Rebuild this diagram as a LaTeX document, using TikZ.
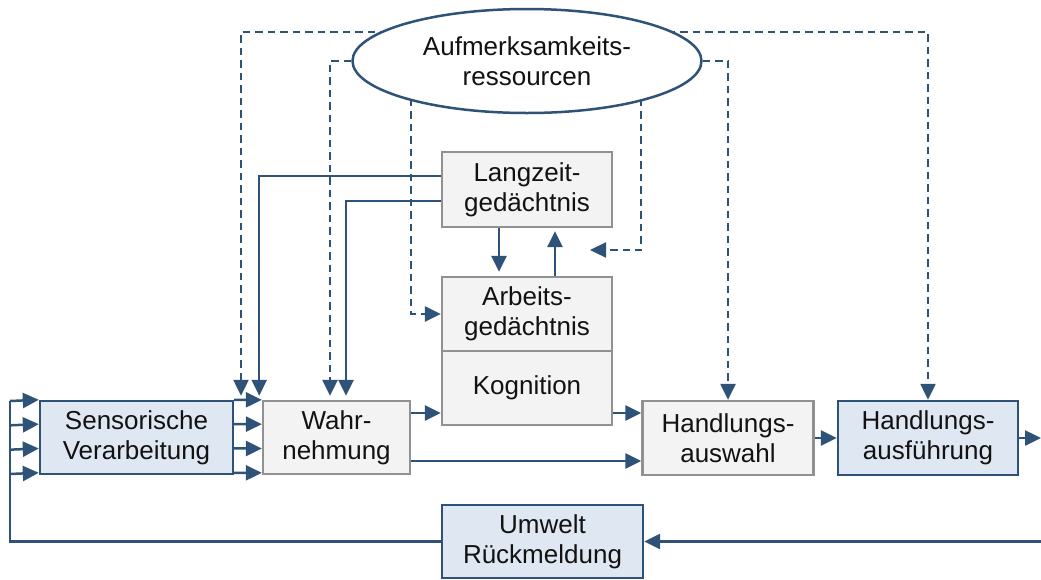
\documentclass[tikz,border=0pt]{standalone}
\usepackage{fontspec}
\setmainfont{Liberation Sans}
\usetikzlibrary{shapes.geometric,arrows.meta,calc,backgrounds}
\definecolor{linec}{RGB}{47,82,120}
\definecolor{bluefill}{RGB}{222,231,242}
\definecolor{grayfill}{RGB}{243,243,243}
\definecolor{grayline}{RGB}{145,145,145}
\begin{document}
\begin{tikzpicture}[x=1pt,y=-1pt,
  every node/.style={font=\fontsize{26}{30}\selectfont, align=center, inner sep=0pt, text=black!93},
  graybox/.style={rectangle, draw=grayline, fill=grayfill, line width=2.3pt},
  bluebox/.style={rectangle, draw=linec, fill=bluefill, line width=2.4pt},
  conn/.style={draw=linec, line width=2.5pt},
  tip/.style={-{Triangle[length=16pt,width=15pt]}},
  arr/.style={conn, tip},
  dashconn/.style={conn, line width=2.3pt, dash pattern=on 7.5pt off 5pt},
  dasharr/.style={dashconn, tip},
]
\useasboundingbox (0,0) rectangle (1041,579);

% attention resources
\node[ellipse, draw=linec, fill=white, line width=2.5pt, minimum width=349pt, minimum height=104pt] (att) at (527,61) {Aufmerksamkeits-\\ressourcen};

% memory and cognition
\node[graybox, minimum width=170pt, minimum height=75pt] (lzg) at (527,189.5) {Langzeit-\\gedächtnis};
\node[graybox, minimum width=170pt, minimum height=74pt] (ag) at (527,314) {Arbeits-\\gedächtnis};
\node[graybox, minimum width=170pt, minimum height=74pt] (kog) at (527,388) {Kognition};

% processing chain
\node[bluebox, minimum width=193pt, minimum height=73pt] (sen) at (136.5,437.5) {Sensorische\\Verarbeitung};
\node[graybox, minimum width=147pt, minimum height=73pt] (wah) at (336.5,437.5) {Wahr-\\nehmung};
\node[graybox, minimum width=171pt, minimum height=74pt] (haw) at (728,438) {Handlungs-\\auswahl};
\node[bluebox, minimum width=180pt, minimum height=74pt] (hau) at (928,438) {Handlungs-\\ausführung};
\node[bluebox, minimum width=201pt, minimum height=73pt] (umw) at (542.5,541.5) {Umwelt\\Rückmeldung};

% helper points
\coordinate (oL) at (241,32);
\coordinate (oR) at (928,32);
\coordinate (dL) at (411,61);
\coordinate (dR) at (641,61);
\coordinate (mem) at (590,250);
\coordinate (lp) at (10,401);
\coordinate (rE) at (1041,438);
\coordinate (rB) at (1041,541.5);

% dashed attention links (behind the ellipse)
\begin{scope}[on background layer]
  \draw[dashconn, {Triangle[length=16pt,width=15pt]}-{Triangle[length=16pt,width=15pt]}, shorten <=4pt]
    (oL |- sen.north) -- (oL) -- (oR) -- (hau.north);
  \draw[dasharr, shorten >=4pt] (att.west) -| ($(wah.north)+(-6.5,0)$);
  \draw[dasharr] (att.east) -| (haw.north);
  \draw[dasharr] (dL) |- (ag.west);
  \draw[dasharr] (dR) |- (mem);
\end{scope}

% long-term memory links
\draw[arr, shorten >=4pt] ($(lzg.west)+(0,-13.5)$) -| ($(sen.north east)+(25,0)$);
\draw[arr, shorten >=4pt] ($(lzg.west)+(0,11.5)$) -| ($(wah.north)+(9.5,0)$);
\draw[arr, shorten >=4pt] ($(lzg.south)+(-28,0)$) -- ($(ag.north)+(-28,0)$);
\draw[arr, shorten >=3pt] ($(ag.north)+(28,0)$) -- ($(lzg.south)+(28,0)$);

% feedback loop into sensory processing
\draw[conn] (umw.west) -| (lp);
\foreach \k in {0,1,2,3} {
  \draw[arr] ($(lp)+(0,24.33*\k)$) -- ($(sen.north west)+(0,24.33*\k)$);
  \draw[arr] ($(sen.north east)+(0,24.33*\k)$) -- ($(wah.north west)+(0,24.33*\k)$);
}

% main flow
\draw[arr] ($(wah.east)+(0,-24.5)$) -- ($(kog.west)+(0,25)$);
\draw[arr] ($(wah.east)+(0,23.5)$) -- ($(haw.west)+(0,23)$);
\draw[arr] ($(kog.east)+(0,25)$) -- ($(haw.west)+(0,-25)$);
\draw[arr] (haw) -- (hau);
\draw[arr] (hau.east) -- (rE);
\draw[arr] (rB) -- (umw.east);
\end{tikzpicture}
\end{document}
